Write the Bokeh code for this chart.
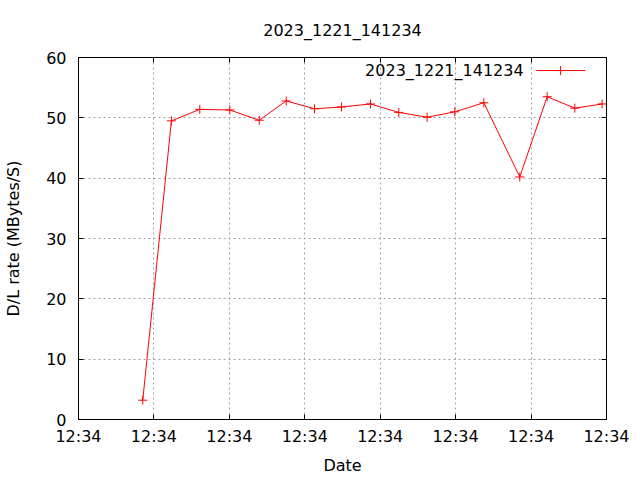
from bokeh.plotting import figure
from bokeh.models import FixedTicker, LinearAxis, Range1d, Label
from bokeh.embed import file_html
from bokeh.resources import INLINE

# ---- data ----
title_text = "2023_1221_141234"
series_name = "2023_1221_141234"
x_label = "Date"
y_label = "D/L rate (MBytes/S)"
# seconds after 12:34:00
t_seconds = [4.26, 6.16, 8.04, 10.03, 11.98, 13.77, 15.64, 17.43, 19.36,
             21.23, 23.11, 24.94, 26.87, 29.25, 31.07, 32.90, 34.71]
rate = [3.2, 49.5, 51.4, 51.3, 49.6, 52.8, 51.5, 51.8, 52.3,
        50.9, 50.1, 51.0, 52.5, 40.2, 53.5, 51.6, 52.3]
x_ticks = [0, 5, 10, 15, 20, 25, 30, 35]
x_tick_labels = ["12:34", "12:34", "12:34", "12:34", "12:34", "12:34", "12:34", "12:34"]
y_ticks = [0, 10, 20, 30, 40, 50, 60]

FONT = "DejaVu Sans"
FS = "16px"
X0, X1 = 0, 35
Y0, Y1 = 0, 60

p = figure(width=640, height=480, output_backend="svg", toolbar_location=None,
           x_range=Range1d(X0, X1), y_range=Range1d(Y0, Y1),
           min_border_left=78, min_border_right=34, min_border_top=57,
           min_border_bottom=61, title=title_text,
           x_axis_label=x_label, y_axis_label=y_label)
p.background_fill_color = "white"
p.border_fill_color = "white"
p.outline_line_color = "black"
p.outline_line_width = 1
p.outline_line_alpha = 1

p.title.align = "center"
p.title.text_font = FONT
p.title.text_font_size = FS
p.title.text_font_style = "normal"
p.title.text_color = "black"
p.title.standoff = 36

def style_axis(ax):
    ax.axis_line_color = "black"
    ax.major_tick_in = 5
    ax.major_tick_out = 0
    ax.major_tick_line_color = "black"
    ax.minor_tick_line_color = None
    ax.major_label_text_font = FONT
    ax.major_label_text_font_size = FS
    ax.major_label_text_color = "black"
    ax.axis_label_text_font = FONT
    ax.axis_label_text_font_size = FS
    ax.axis_label_text_font_style = "normal"
    ax.axis_label_text_color = "black"

xa = p.xaxis[0]
xa.ticker = FixedTicker(ticks=x_ticks)
xa.major_label_overrides = {t: lab for t, lab in zip(x_ticks, x_tick_labels)}
style_axis(xa)
xa.major_label_standoff = 7
xa.axis_label_standoff = 7

ya = p.yaxis[0]
ya.ticker = FixedTicker(ticks=y_ticks)
style_axis(ya)
ya.major_label_standoff = 12
ya.axis_label_standoff = 20

# mirrored tick marks on top and right (no labels)
top = LinearAxis(ticker=FixedTicker(ticks=x_ticks))
style_axis(top)
top.major_label_overrides = {t: "" for t in x_ticks}
top.major_label_standoff = 0
p.add_layout(top, "above")
right = LinearAxis(ticker=FixedTicker(ticks=y_ticks))
style_axis(right)
right.major_label_overrides = {t: "" for t in y_ticks}
right.major_label_standoff = 0
p.add_layout(right, "right")

p.xgrid.ticker = FixedTicker(ticks=x_ticks[1:-1])
p.ygrid.ticker = FixedTicker(ticks=y_ticks[1:-1])
for g in (p.xgrid[0], p.ygrid[0]):
    g.grid_line_color = "#a0a0a0"
    g.grid_line_dash = "2 3"
    g.grid_line_width = 1

# data series
p.line(t_seconds, rate, line_color="red", line_width=1)
p.scatter(t_seconds, rate, marker="cross", size=9, line_color="red", line_width=1)

# gnuplot-style key: text, then line sample, top-right inside frame
xs = X1 - X0
ys = Y1 - Y0
key_y = Y0 + 0.964 * ys
p.add_layout(Label(x=X0 + 0.843 * xs, y=key_y, text=series_name,
                   text_font=FONT, text_font_size=FS, text_color="black",
                   text_align="right", text_baseline="middle"))
p.line([X0 + 0.867 * xs, X0 + 0.960 * xs], [key_y, key_y], line_color="red", line_width=1)
p.scatter([X0 + 0.913 * xs], [key_y], marker="cross", size=9, line_color="red", line_width=1)

open("out.html", "w").write(file_html(p, INLINE))
